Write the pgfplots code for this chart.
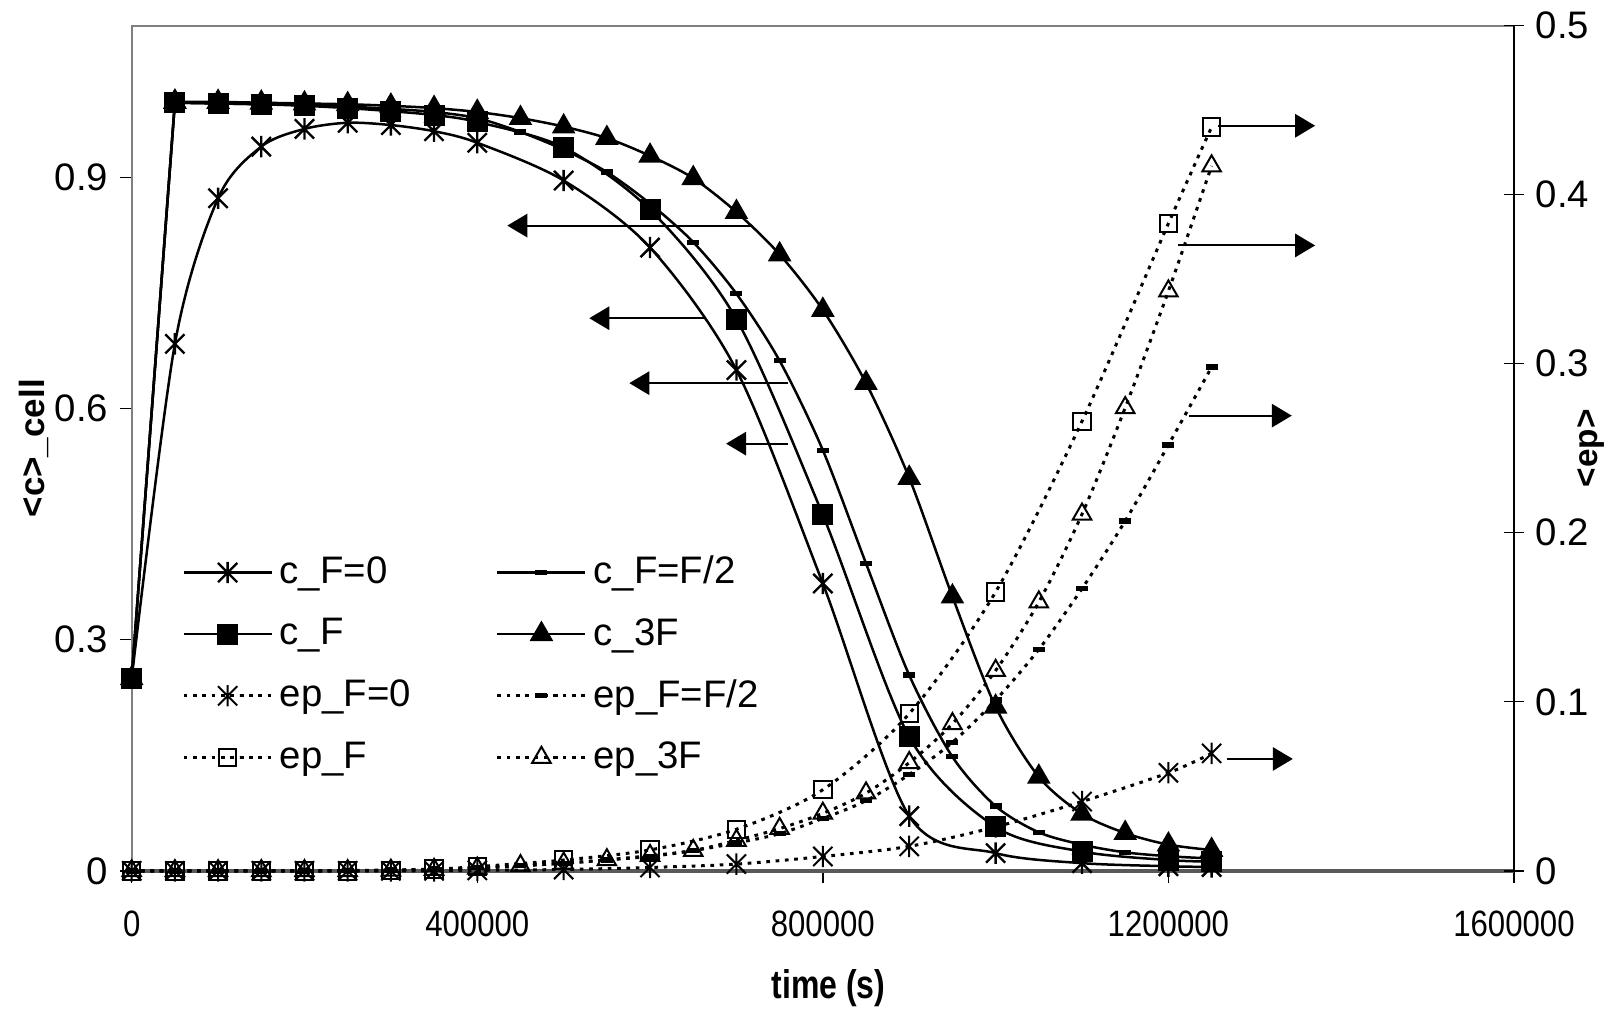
\documentclass[border=0pt]{standalone}
\usepackage{fontspec}
\setmainfont{Liberation Sans}
\newfontfamily\xcond{Liberation Sans}[FakeStretch=0.85]
\newfontfamily\lblcond{Liberation Sans}[FakeStretch=0.8]
\usepackage{pgfplots}
\pgfplotsset{compat=1.18}
\usetikzlibrary{arrows.meta}

\pgfdeclareplotmark{xstar}{%
  \pgfpathmoveto{\pgfqpoint{0pt}{\pgfplotmarksize}}%
  \pgfpathlineto{\pgfqpoint{0pt}{-\pgfplotmarksize}}%
  \pgfpathmoveto{\pgfqpoint{-0.9\pgfplotmarksize}{0.9\pgfplotmarksize}}%
  \pgfpathlineto{\pgfqpoint{0.9\pgfplotmarksize}{-0.9\pgfplotmarksize}}%
  \pgfpathmoveto{\pgfqpoint{-0.9\pgfplotmarksize}{-0.9\pgfplotmarksize}}%
  \pgfpathlineto{\pgfqpoint{0.9\pgfplotmarksize}{0.9\pgfplotmarksize}}%
  \pgfusepathqstroke}
\pgfdeclareplotmark{hbar}{%
  \pgfpathrectangle{\pgfqpoint{-1.8pt}{-0.8pt}}{\pgfqpoint{3.6pt}{1.6pt}}%
  \pgfusepathqfill}

\pgfplotsset{
  cline/.style={black, line width=0.75pt, solid, smooth, tension=0.5, mark options={solid, line width=0.7pt}},
  epline/.style={black, line width=0.9pt, dash pattern=on 1.1pt off 1.7pt, smooth, tension=0.5, mark options={solid, line width=0.6pt}},
  cstar/.style={cline, mark=xstar, mark size=3.2pt},
  chbar/.style={cline, mark=hbar},
  csq/.style={cline, mark=square*, mark size=2.8pt},
  ctri/.style={cline, mark=triangle*, mark size=3.4pt},
  estar/.style={epline, mark=xstar, mark size=3.2pt},
  ehbar/.style={epline, mark=hbar},
  esq/.style={epline, mark=square, mark size=2.6pt},
  etri/.style={epline, mark=triangle, mark size=3.2pt},
  legend image code/.code={\draw[mark repeat=2,mark phase=2,#1] plot coordinates {(0pt,0pt) (13.2pt,0pt) (26.4pt,0pt)};},
}

\begin{document}
\begin{tikzpicture}
\path[use as bounding box] (-39.5pt,-42pt) rectangle (445.5pt,261.2pt);
\begin{axis}[
  at={(0pt,0pt)}, anchor=south west,
  scale only axis, width=414.6pt, height=253.5pt,
  xmin=0, xmax=1600000, ymin=0, ymax=1.097,
  scaled x ticks=false, scaled y ticks=false,
  xtick={0,400000,800000,1200000,1600000},
  xticklabels={0,400000,800000,1200000,1600000},
  ytick={0,0.3,0.6,0.9},
  yticklabels={0,0.3,0.6,0.9},
  xtick pos=bottom, ytick pos=left,
  tick align=outside, major tick length=3.5pt,
  tick style={black, line width=0.4pt},
  axis line style={draw=gray, line width=0.6pt},
  xticklabel style={font=\xcond\fontsize{11}{13}\selectfont, yshift=-5pt},
  yticklabel style={font=\fontsize{11.5}{13}\selectfont},
  xlabel={time (s)}, ylabel={<c>\_cell},
  xlabel style={font=\lblcond\bfseries\fontsize{12}{14}\selectfont, at={(axis description cs:0.504,-0.1386)}, anchor=center},
  ylabel style={font=\bfseries\fontsize{10.5}{12}\selectfont, at={(axis description cs:-0.0707,0.5)}, anchor=center},
  clip=false,
]
\draw[gray!70!black, line width=1.1pt] (rel axis cs:0,0) -- (rel axis cs:1,0);
% c_F=0
\addplot[cstar] coordinates {
(0,0.25) (50000,0.684) (100000,0.873) (150000,0.940) (200000,0.963) (250000,0.971)
(300000,0.968) (350000,0.960) (400000,0.945) (500000,0.896) (600000,0.809)
(700000,0.650) (800000,0.373) (900000,0.071) (1000000,0.023) (1100000,0.010)
(1200000,0.006) (1250000,0.005)};
% c_F=F/2 (first step drawn straight, rest smoothed)
\addplot[chbar, sharp plot, forget plot] coordinates {(0,0.25) (50000,0.997)};
\addplot[chbar] coordinates {
(50000,0.997) (100000,0.996) (150000,0.995) (200000,0.994) (250000,0.992)
(300000,0.989) (350000,0.985) (400000,0.977) (450000,0.959) (500000,0.936)
(550000,0.907) (600000,0.866) (650000,0.816) (700000,0.749) (750000,0.662)
(800000,0.546) (850000,0.399) (900000,0.254) (950000,0.148) (1000000,0.084)
(1050000,0.050) (1100000,0.034) (1150000,0.024) (1200000,0.019) (1250000,0.016)};
% c_3F
\addplot[ctri, sharp plot, forget plot] coordinates {(0,0.25) (50000,0.998)};
\addplot[ctri] coordinates {
(50000,0.998) (100000,0.998) (150000,0.997) (200000,0.996) (250000,0.995)
(300000,0.993) (350000,0.990) (400000,0.985) (450000,0.977) (500000,0.966)
(550000,0.951) (600000,0.928) (650000,0.899) (700000,0.855) (750000,0.800)
(800000,0.728) (850000,0.633) (900000,0.510) (950000,0.356) (1000000,0.213)
(1050000,0.122) (1100000,0.074) (1150000,0.049) (1200000,0.034) (1250000,0.027)};
% c_F
\addplot[csq, sharp plot, forget plot] coordinates {(0,0.25) (50000,0.997)};
\addplot[csq] coordinates {
(50000,0.997) (100000,0.996) (150000,0.995) (200000,0.993) (250000,0.990)
(300000,0.986) (350000,0.981) (400000,0.972) (500000,0.939) (600000,0.858)
(700000,0.716) (800000,0.462) (900000,0.174) (1000000,0.057) (1100000,0.025)
(1200000,0.014) (1250000,0.012)};
% left arrows
\draw[black, line width=0.6pt, -{Triangle[length=6pt,width=7pt]}] (axis cs:719600,0.8375) -- (axis cs:434800,0.8375);
\draw[black, line width=0.6pt, -{Triangle[length=6pt,width=7pt]}] (axis cs:663600,0.7173) -- (axis cs:529700,0.7173);
\draw[black, line width=0.6pt, -{Triangle[length=6pt,width=7pt]}] (axis cs:760100,0.633) -- (axis cs:576000,0.633);
\draw[black, line width=0.6pt, -{Triangle[length=6pt,width=7pt]}] (axis cs:760100,0.5545) -- (axis cs:688000,0.5545);
\end{axis}

\begin{axis}[
  at={(0pt,0pt)}, anchor=south west,
  scale only axis, width=414.6pt, height=253.5pt,
  xmin=0, xmax=1600000, ymin=0, ymax=0.5,
  scaled x ticks=false, scaled y ticks=false,
  axis x line=none, axis y line*=right,
  every outer y axis line/.append style={-},
  axis line style={-, black, line width=0.6pt},
  ytick={0,0.1,0.2,0.3,0.4,0.5},
  yticklabels={0,0.1,0.2,0.3,0.4,0.5},
  tick align=center, major tick length=6pt,
  tick style={black, line width=0.4pt},
  yticklabel style={font=\fontsize{11.5}{13}\selectfont},
  ylabel={<ep>},
  ylabel style={font=\bfseries\fontsize{10}{12}\selectfont, at={(axis description cs:1.0556,0.5)}, anchor=center},
  clip=false,
  legend columns=2,
  legend cell align=left,
  legend style={at={(axis description cs:0.036,0.381)}, anchor=north west, draw=none, fill=none,
    font=\fontsize{11.5}{13}\selectfont, row sep=4.8pt, inner sep=0pt,
    /tikz/every even column/.append style={column sep=23.5pt}},
]
\addlegendimage{cstar}\addlegendentry{c\_F=0}
\addlegendimage{chbar}\addlegendentry{c\_F=F/2}
\addlegendimage{csq}\addlegendentry{c\_F}
\addlegendimage{ctri}\addlegendentry{c\_3F}
% ep_F=0
\addplot[estar] coordinates {
(0,0) (50000,0) (100000,0) (150000,0) (200000,0) (250000,0) (300000,0) (350000,0)
(400000,0.0003) (500000,0.0008) (600000,0.002) (700000,0.004) (800000,0.0085)
(900000,0.0145) (1000000,0.026) (1100000,0.041) (1200000,0.058) (1250000,0.0695)};
\addlegendentry{ep\_F=0}
% ep_F=F/2
\addplot[ehbar] coordinates {
(0,0) (50000,0) (100000,0) (150000,0) (200000,0) (250000,0.0002) (300000,0.0005)
(350000,0.001) (400000,0.0018) (450000,0.003) (500000,0.0045) (550000,0.0065)
(600000,0.0085) (650000,0.012) (700000,0.0165) (750000,0.022) (800000,0.031)
(850000,0.0415) (900000,0.057) (950000,0.076) (1000000,0.101) (1050000,0.131)
(1100000,0.167) (1150000,0.207) (1200000,0.252) (1250000,0.298)};
\addlegendentry{ep\_F=F/2}
% ep_F
\addplot[esq] coordinates {
(0,0) (50000,0) (100000,0) (150000,0) (200000,0) (250000,0) (300000,0.0003)
(350000,0.001) (400000,0.0025) (500000,0.0064) (600000,0.0124) (700000,0.0246)
(800000,0.048) (900000,0.093) (1000000,0.165) (1100000,0.266) (1200000,0.383)
(1250000,0.440)};
\addlegendentry{ep\_F}
% ep_3F
\addplot[etri] coordinates {
(0,0) (50000,0) (100000,0) (150000,0) (200000,0) (250000,0) (300000,0.0003)
(350000,0.0008) (400000,0.0015) (450000,0.003) (500000,0.0045) (550000,0.0065)
(600000,0.009) (650000,0.012) (700000,0.018) (750000,0.025) (800000,0.034)
(850000,0.046) (900000,0.064) (950000,0.087) (1000000,0.1185) (1050000,0.159)
(1100000,0.211) (1150000,0.274) (1200000,0.343) (1250000,0.417)};
\addlegendentry{ep\_3F}
% right arrows
\draw[black, line width=0.6pt, -{Triangle[length=6pt,width=7pt]}] (axis cs:1257800,0.4408) -- (axis cs:1369800,0.4408);
\draw[black, line width=0.6pt, -{Triangle[length=6pt,width=7pt]}] (axis cs:1211500,0.370) -- (axis cs:1369800,0.370);
\draw[black, line width=0.6pt, -{Triangle[length=6pt,width=7pt]}] (axis cs:1224300,0.2693) -- (axis cs:1342800,0.2693);
\draw[black, line width=0.6pt, -{Triangle[length=6pt,width=7pt]}] (axis cs:1267600,0.0662) -- (axis cs:1344000,0.0662);
\end{axis}
\end{tikzpicture}
\end{document}
